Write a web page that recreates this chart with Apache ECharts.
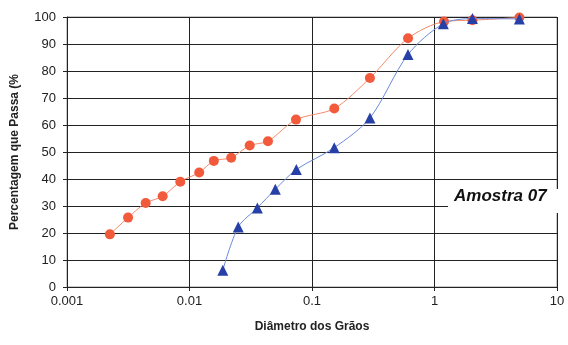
<!DOCTYPE html>
<html><head><meta charset="utf-8">
<script src="https://cdn.jsdelivr.net/npm/echarts@6/dist/echarts.min.js"></script>
<style>html,body{margin:0;padding:0;background:#fff}#c{width:568px;height:345px}</style>
</head><body><div id="c"></div>
<script>
var diamA = [0.00224,0.00315,0.00439,0.00604,0.00841,0.0120,0.0158,0.0219,0.031,0.0437,0.074,0.152,0.297,0.608,1.196,2.04,4.93];
var passA = [19.5,25.7,31.1,33.6,39.0,42.4,46.7,47.9,52.4,54.0,62.0,66.1,77.4,92.1,98.3,98.8,99.8];
var diamB = [0.0187,0.025,0.0358,0.0502,0.0745,0.152,0.297,0.608,1.18,2.04,4.93];
var passB = [6.2,22.2,29.3,36.2,43.5,51.6,62.6,86.1,97.5,99.4,99.3];
var xTicks = [0.001,0.01,0.1,1,10];
var yTicks = [0,10,20,30,40,50,60,70,80,90,100];
var sampleLabel = 'Amostra 07';

function pairs(x,y){return x.map(function(v,i){return [v,y[i]];});}
var chart = echarts.init(document.getElementById('c'));
var font = 'Liberation Sans, Arial, sans-serif';
chart.setOption({
  animation:false,
  backgroundColor:'#fff',
  grid:{left:67,right:11,top:17,bottom:58,show:true,borderColor:'#999',borderWidth:1},
  xAxis:{
    type:'log', logBase:10, min:xTicks[0], max:xTicks[xTicks.length-1],
    name:'Diâmetro dos Grãos', nameLocation:'middle', nameGap:34,
    nameTextStyle:{fontFamily:font,fontWeight:'bold',fontSize:12,color:'#222'},
    axisLine:{show:true,lineStyle:{color:'#222',width:1}},
    axisTick:{show:true,length:4,lineStyle:{color:'#222'}},
    axisLabel:{fontFamily:font,fontSize:13,color:'#222',margin:8,
      formatter:function(v){var m=xTicks.find(function(t){return Math.abs(t-v)/t<1e-6;});return m===undefined?'':String(m);}},
    splitLine:{show:true,lineStyle:{color:'#222',width:1}},
    minorTick:{show:false}
  },
  yAxis:{
    type:'value', min:0, max:100, interval:10,
    name:'Percentagem que Passa (%', nameLocation:'middle', nameGap:46,
    nameTextStyle:{fontFamily:font,fontWeight:'bold',fontSize:12,color:'#222'},
    axisLine:{show:true,lineStyle:{color:'#222',width:1}},
    axisTick:{show:true,length:4,lineStyle:{color:'#222'}},
    axisLabel:{fontFamily:font,fontSize:13,color:'#222',margin:11},
    splitLine:{show:true,lineStyle:{color:'#222',width:1}}
  },
  series:[
    {type:'line', data:pairs(diamA,passA), smooth:0.3, symbol:'circle', symbolSize:10,
     lineStyle:{color:'#f58a6a',width:1}, itemStyle:{color:'#f25a3c'}, z:3},
    {type:'line', data:pairs(diamB,passB), smooth:0.3, symbol:'triangle', symbolSize:11,
     lineStyle:{color:'#6a8ad8',width:1}, itemStyle:{color:'#2640a8'}, z:4}
  ],
  graphic:[
    {type:'rect', shape:{x:448,y:189,width:114,height:24}, style:{fill:'#fff'}, z:10},
    {type:'text', left:454, top:188, z:11,
     style:{text:sampleLabel, fontFamily:font, fontWeight:'bold', fontStyle:'italic', fontSize:17, fill:'#111'}}
  ]
});
</script></body></html>
